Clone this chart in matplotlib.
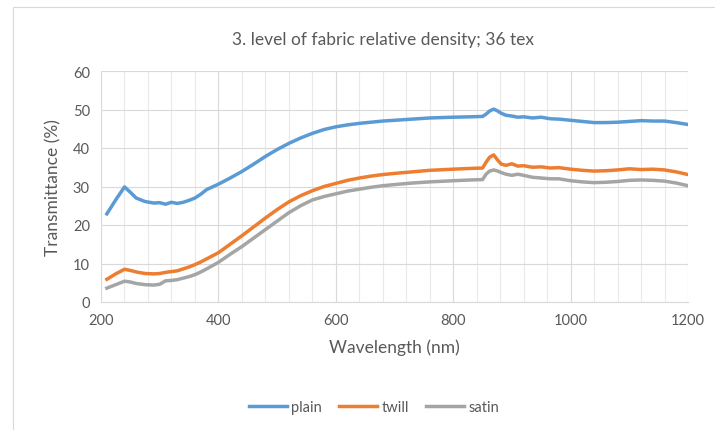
import matplotlib
matplotlib.use("Agg")
import matplotlib.pyplot as plt
from matplotlib.patches import Rectangle
from matplotlib.ticker import MultipleLocator

plt.rcParams['font.family'] = ['Lato', 'DejaVu Sans']

wavelength = [210, 225, 240, 250, 260, 275, 290, 300, 310, 320, 330, 340, 350, 360, 370, 380,
              400, 420, 440, 460, 480, 500, 520, 540, 560, 580, 600, 620, 640, 660, 680, 700,
              730, 760, 800, 830, 850, 856, 862, 869, 876, 882, 890, 900, 910, 920, 935, 950,
              965, 980, 1000, 1020, 1040, 1060, 1080, 1100, 1120, 1140, 1160, 1180, 1200]

plain = [22.9, 26.5, 29.9, 28.5, 27.0, 26.1, 25.7, 25.8, 25.4, 25.9, 25.6, 25.9, 26.4, 27.0, 28.0, 29.2,
         30.6, 32.2, 33.9, 35.8, 37.8, 39.6, 41.2, 42.6, 43.8, 44.8, 45.5, 46.0, 46.4, 46.7, 47.0, 47.2,
         47.5, 47.8, 48.0, 48.1, 48.2, 48.8, 49.6, 50.1, 49.6, 49.0, 48.5, 48.3, 48.0, 48.1, 47.8, 48.0,
         47.6, 47.5, 47.2, 46.9, 46.6, 46.6, 46.7, 46.9, 47.1, 47.0, 47.0, 46.6, 46.1]

twill = [5.9, 7.3, 8.5, 8.2, 7.8, 7.4, 7.3, 7.4, 7.7, 7.9, 8.1, 8.6, 9.1, 9.7, 10.4, 11.2,
         12.8, 15.0, 17.2, 19.5, 21.8, 24.0, 26.0, 27.6, 28.9, 30.0, 30.8, 31.6, 32.2, 32.7, 33.1, 33.4,
         33.8, 34.2, 34.5, 34.7, 34.8, 36.3, 37.6, 38.2, 36.8, 35.8, 35.5, 35.9, 35.3, 35.4, 35.0, 35.1,
         34.8, 34.9, 34.5, 34.2, 34.0, 34.1, 34.3, 34.6, 34.4, 34.5, 34.3, 33.8, 33.1]

satin = [3.6, 4.5, 5.4, 5.2, 4.8, 4.5, 4.4, 4.6, 5.5, 5.6, 5.8, 6.2, 6.6, 7.1, 7.8, 8.6,
         10.3, 12.4, 14.4, 16.6, 18.8, 21.0, 23.2, 25.0, 26.5, 27.4, 28.1, 28.8, 29.3, 29.8, 30.2, 30.5,
         30.9, 31.2, 31.5, 31.7, 31.8, 33.2, 34.0, 34.3, 34.0, 33.6, 33.2, 32.9, 33.2, 32.9, 32.4, 32.2,
         32.0, 32.0, 31.5, 31.2, 31.0, 31.1, 31.3, 31.6, 31.7, 31.6, 31.4, 30.9, 30.2]

text_col = '#595959'
grid_col = '#D9D9D9'

fig = plt.figure(figsize=(7.15, 4.31), dpi=100)
# chart frame (cropped on the right and bottom)
fig.patches.append(Rectangle((13 / 715, -0.1), 1.2, 1 - 8 / 431 + 0.1, transform=fig.transFigure,
                             fill=False, edgecolor=grid_col, linewidth=0.8))

ax = fig.add_axes([101 / 715, 1 - 303 / 431, (688 - 101) / 715, (303 - 72) / 431])

ax.plot(wavelength, plain, color='#5B9BD5', lw=2.5, label='plain', solid_joinstyle='round')
ax.plot(wavelength, twill, color='#ED7D31', lw=2.5, label='twill', solid_joinstyle='round')
ax.plot(wavelength, satin, color='#A5A5A5', lw=2.5, label='satin', solid_joinstyle='round')

ax.set_xlim(200, 1200)
ax.set_ylim(0, 60)
ax.xaxis.set_major_locator(MultipleLocator(200))
ax.xaxis.set_minor_locator(MultipleLocator(40))
ax.yaxis.set_major_locator(MultipleLocator(10))
ax.grid(which='major', color=grid_col, lw=0.8)
ax.grid(which='minor', axis='x', color='#E9E9E9', lw=0.8)
ax.set_axisbelow(True)
for s in ['top', 'right', 'left']:
    ax.spines[s].set_visible(False)
ax.spines['bottom'].set_color(grid_col)
ax.tick_params(which='both', length=0, labelsize=10.5, labelcolor=text_col, pad=8)

ax.set_xlabel('Wavelength (nm)', fontsize=12.5, color=text_col, labelpad=8)
ax.set_ylabel('Transmittance (%)', fontsize=12.5, color=text_col, labelpad=8)
fig.text(383 / 715, 1 - 40 / 431, '3. level of fabric relative density; 36 tex',
         ha='center', va='center', fontsize=12.5, color=text_col)

fig.legend(loc='center', bbox_to_anchor=(374 / 715, 1 - 408 / 431), ncol=3, frameon=False,
           fontsize=10.5, labelcolor=text_col, handlelength=2.6, columnspacing=1.2, handletextpad=0.3)

fig.savefig('out.png', dpi=100)
